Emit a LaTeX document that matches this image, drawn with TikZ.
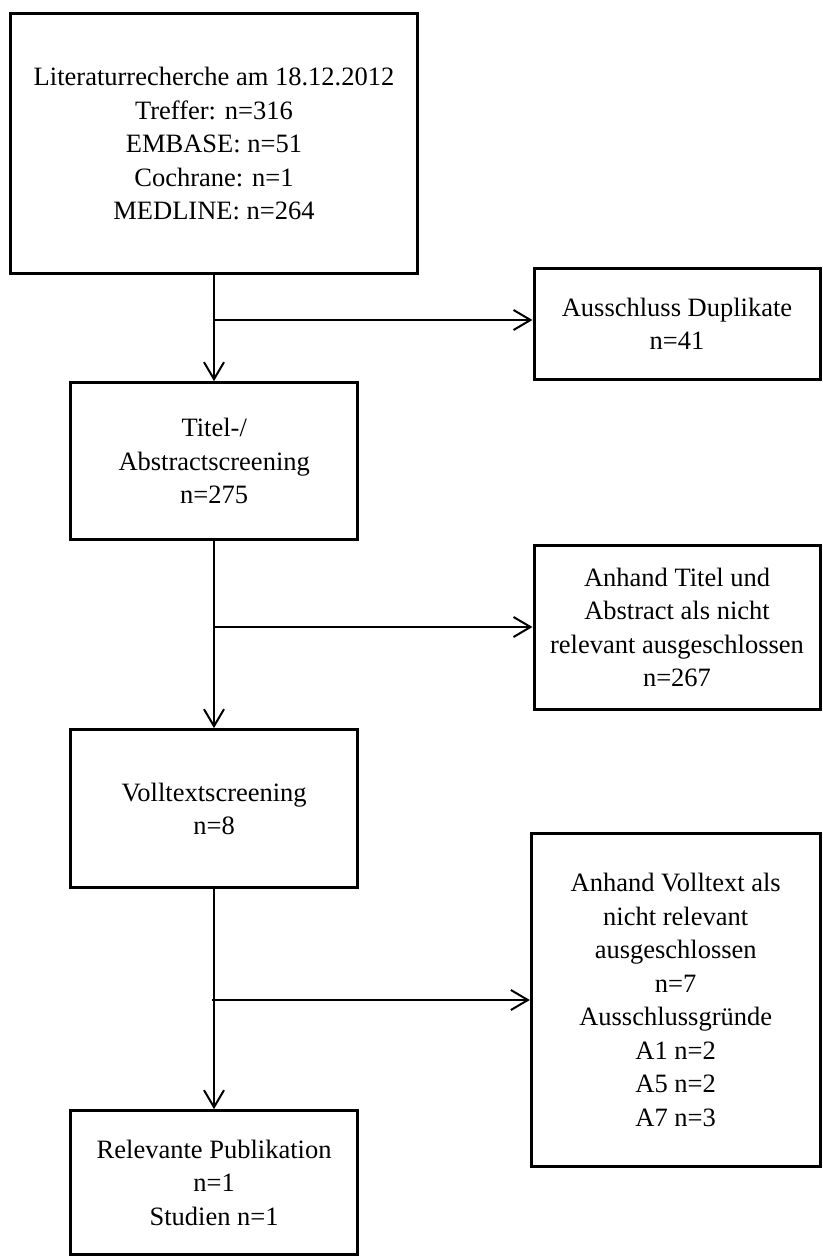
\documentclass[tikz,border=0pt]{standalone}
\usepackage{fontspec}
\setmainfont{Liberation Serif}
\usetikzlibrary{arrows.meta,calc}
\tikzset{
  box/.style={draw, line width=3pt, inner sep=0pt, align=center, font=\fontsize{26.5}{33.5}\selectfont},
  arr/.style={line width=2pt, -{Straight Barb[length=17pt,width=20pt]}}
}
\begin{document}
\begin{tikzpicture}[x=1pt,y=-1pt]
\useasboundingbox (0,0) rectangle (822,1257);
\node[box, minimum width=407pt, minimum height=259.5pt] (lit) at (214,143.7)
  {Literaturrecherche am 18.12.2012\\Treffer: n=316\\EMBASE: n=51\\Cochrane: n=1\\MEDLINE: n=264};
\node[box, minimum width=286pt, minimum height=111pt] (dup) at (677,324)
  {Ausschluss Duplikate\\n=41};
\node[box, minimum width=286.5pt, minimum height=157.3pt] (titel) at (214.2,461.3)
  {Titel-/\\Abstractscreening\\n=275};
\node[box, minimum width=286pt, minimum height=164pt] (exta) at (677,627.4)
  {Anhand Titel und\\Abstract als nicht\\relevant ausgeschlossen\\n=267};
\node[box, minimum width=286.5pt, minimum height=158.3pt] (voll) at (214.2,808.8)
  {Volltextscreening\\n=8};
\node[box, minimum width=288.7pt, minimum height=333.5pt] (extv) at (675.7,999.8)
  {Anhand Volltext als\\nicht relevant\\ausgeschlossen\\n=7\\Ausschlussgründe\\A1 n=2\\A5 n=2\\A7 n=3};
\node[box, minimum width=286.8pt, minimum height=144.3pt] (rel) at (214.1,1182.8)
  {Relevante Publikation\\n=1\\Studien n=1};
\coordinate (j1) at (214,320);
\coordinate (j2) at (214,627);
\coordinate (j3) at (212,1000);
\draw[arr] (lit.south -| j1) -- (titel.north -| j1);
\draw[arr] (j1) -- (j1 -| dup.west);
\draw[arr] (titel.south -| j2) -- (voll.north -| j2);
\draw[arr] (j2) -- (j2 -| exta.west);
\draw[arr] (voll.south -| j1) -- (rel.north -| j1);
\draw[arr] (j3) -- (j3 -| extv.west);
\end{tikzpicture}
\end{document}
